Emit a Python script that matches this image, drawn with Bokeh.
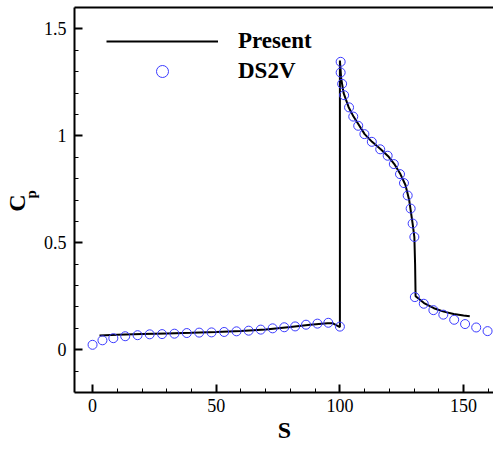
from bokeh.plotting import figure
from bokeh.models import (Range1d, FixedTicker, NumeralTickFormatter, LinearAxis,
                          Legend, LegendItem)
from bokeh.embed import file_html
from bokeh.resources import INLINE

# Present (line)
S_present = [2.8, 10, 20, 30, 40, 50, 60, 70, 80, 88, 95, 97, 100, 100, 100.5, 101.5, 103.5,
             105.5, 108, 110, 113, 116.5, 119.5, 122, 124.5, 126.5, 128, 129.4, 130.1, 130.4,
             130.6, 134, 138, 142, 146, 150, 152.5]
Cp_present = [0.067, 0.070, 0.073, 0.076, 0.079, 0.083, 0.088, 0.095, 0.106, 0.117, 0.124, 0.124,
              0.106, 1.352, 1.27, 1.20, 1.135, 1.09, 1.045, 1.008, 0.972, 0.937, 0.905, 0.868,
              0.82, 0.77, 0.70, 0.59, 0.527, 0.40, 0.25, 0.218, 0.194, 0.178, 0.167, 0.160, 0.156]

# DS2V (circles)
S_ds2v = [0, 4, 8.4, 13.2, 18.2, 23.1, 28.1, 33.1, 38.1, 43.1, 48.1, 53.2, 58.2, 63.1, 68, 72.8,
          77.5, 81.9, 86.3, 90.9, 95.3, 100,
          100.3, 100.3, 100.9, 101.7, 103.7, 105.4, 107.4, 109.9, 112.9, 116.3, 119.3, 121.8,
          124.3, 125.9, 127.4, 128.6, 129.4, 130.1,
          130.3, 133.9, 137.8, 141.8, 146.2, 150.6, 155.1, 159.7]
Cp_ds2v = [0.023, 0.044, 0.054, 0.063, 0.068, 0.072, 0.073, 0.075, 0.078, 0.080, 0.081, 0.083,
           0.086, 0.089, 0.094, 0.100, 0.105, 0.109, 0.117, 0.122, 0.126, 0.108,
           1.346, 1.296, 1.243, 1.190, 1.133, 1.090, 1.047, 1.008, 0.972, 0.937, 0.907, 0.868,
           0.821, 0.779, 0.721, 0.660, 0.590, 0.527,
           0.246, 0.215, 0.185, 0.164, 0.140, 0.120, 0.104, 0.087]

x_major = [0, 50, 100, 150]
x_minor = [10, 20, 30, 40, 60, 70, 80, 90, 110, 120, 130, 140, 160]
y_major = [0, 0.5, 1, 1.5]
y_minor = [-0.1, 0.1, 0.2, 0.3, 0.4, 0.6, 0.7, 0.8, 0.9, 1.1, 1.2, 1.3, 1.4]

FONT = "Liberation Serif"
NB = "\u00a0"

p = figure(frame_width=420, frame_height=385, output_backend="svg", toolbar_location=None,
           x_range=Range1d(-7.3, 162.5), y_range=Range1d(-0.2, 1.6),
           min_border_left=73, min_border_right=0, min_border_top=7, min_border_bottom=5)
p.outline_line_color = None
p.xgrid.visible = False
p.ygrid.visible = False
p.background_fill_color = "white"
p.border_fill_color = "white"

for ax in (p.xaxis[0], p.yaxis[0]):
    ax.axis_line_width = 2
    ax.axis_line_color = "black"
    ax.major_tick_in = 8
    ax.major_tick_out = 0
    ax.minor_tick_in = 4
    ax.minor_tick_out = 0
    ax.major_tick_line_width = 2
    ax.minor_tick_line_width = 1
    ax.major_tick_line_color = "black"
    ax.minor_tick_line_color = "black"
    ax.major_label_text_font = FONT
    ax.major_label_text_font_size = "18px"
    ax.major_label_text_color = "black"

p.xaxis[0].ticker = FixedTicker(ticks=x_major, minor_ticks=x_minor)
p.yaxis[0].ticker = FixedTicker(ticks=y_major, minor_ticks=y_minor)
p.yaxis[0].formatter = NumeralTickFormatter(format="0.[0]")
p.xaxis[0].major_label_standoff = 6
p.yaxis[0].major_label_standoff = 8

p.xaxis[0].axis_label = "S"
p.xaxis[0].axis_label_text_font = FONT
p.xaxis[0].axis_label_text_font_style = "bold"
p.xaxis[0].axis_label_text_font_size = "24px"
p.xaxis[0].axis_label_text_color = "black"
p.xaxis[0].axis_label_standoff = 2

# subscript "p" as the inner y-axis label
p.yaxis[0].axis_label = NB * 3 + "p"
p.yaxis[0].axis_label_text_font = FONT
p.yaxis[0].axis_label_text_font_style = "bold"
p.yaxis[0].axis_label_text_font_size = "15px"
p.yaxis[0].axis_label_text_color = "black"
p.yaxis[0].axis_label_standoff = 2

# "C" as an outer y-axis label
outer = LinearAxis(ticker=FixedTicker(ticks=[]), axis_line_color=None,
                   major_tick_in=0, major_tick_out=0, minor_tick_in=0, minor_tick_out=0,
                   major_label_standoff=0, major_label_text_font_size="0px",
                   axis_label="C" + NB, axis_label_text_font=FONT,
                   axis_label_text_font_style="bold", axis_label_text_font_size="24px",
                   axis_label_text_color="black", axis_label_standoff=-10)
p.add_layout(outer, "left")

top = LinearAxis(ticker=FixedTicker(ticks=[]), axis_line_width=2, axis_line_color="black",
                 major_tick_in=0, major_tick_out=0, minor_tick_in=0, minor_tick_out=0,
                 major_label_standoff=0, major_label_text_font_size="0px")
p.add_layout(top, "above")

r_line = p.line(S_present, Cp_present, line_color="black", line_width=2)
r_pts = p.scatter(S_ds2v, Cp_ds2v, marker="circle", size=9, fill_color=None,
                  line_color="#3b3bff", line_width=1)

legend = Legend(items=[LegendItem(label="Present", renderers=[r_line]),
                       LegendItem(label="DS2V", renderers=[r_pts])],
                location=(32, 306), glyph_width=112, glyph_height=30, spacing=0,
                label_standoff=20, padding=0, margin=0, border_line_color=None,
                background_fill_alpha=0, label_text_font=FONT,
                label_text_font_style="bold", label_text_font_size="23px",
                label_text_color="black", label_height=30)
p.add_layout(legend)

open("out.html", "w").write(file_html(p, INLINE))
